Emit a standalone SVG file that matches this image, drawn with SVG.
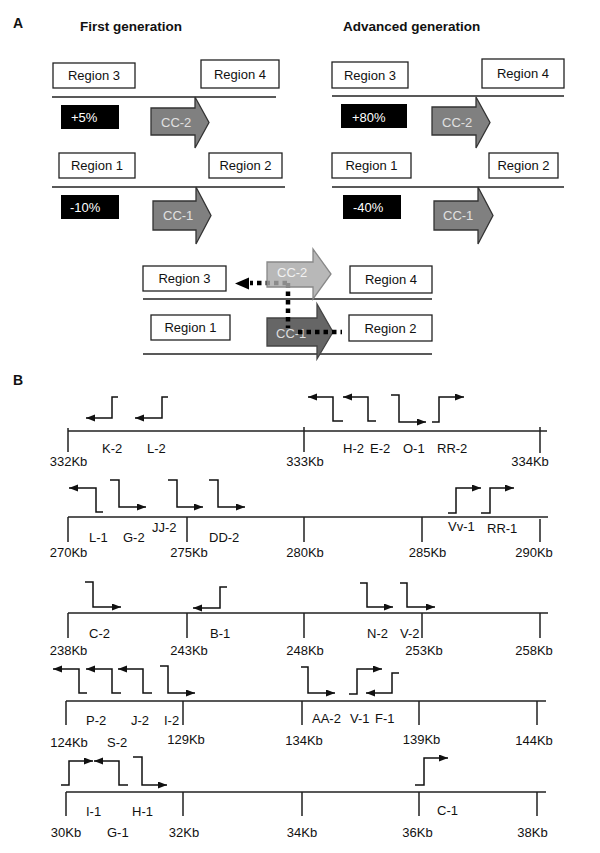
<svg xmlns="http://www.w3.org/2000/svg" width="600" height="853" viewBox="0 0 600 853">
<style>
.t{font-family:"Liberation Sans",Arial,sans-serif;font-size:13px;fill:#111}
.bd{font-weight:bold}
.w{fill:#fff}
.lt{fill:#e0e0e0}
.box{fill:#fff;stroke:#222;stroke-width:1.3}
.blk{fill:#000}
.ln{stroke:#222;stroke-width:1.5;fill:none}
.pr{fill:none;stroke:#111;stroke-width:1.5;marker-end:url(#ah)}
.cc{fill:#808080;stroke:#333;stroke-width:1.3}
.dot{fill:none;stroke:#000;stroke-width:4.5;stroke-dasharray:4.5 4}
</style>
<defs>
<marker id="ah" markerUnits="userSpaceOnUse" markerWidth="10" markerHeight="8" refX="9" refY="3.5" orient="auto">
<path d="M0,0 L9,3.5 L0,7 z" fill="#111"/>
</marker>
</defs>
<rect width="600" height="853" fill="#fff"/>

<g id="panelA-labels">
<text class="t bd" x="13" y="28" style="font-size:14px">A</text>
<text class="t bd" x="80" y="31" style="font-size:13.5px">First generation</text>
<text class="t bd" x="343" y="31" style="font-size:13.5px">Advanced generation</text>
</g>

<!-- First generation -->
<g id="fg-region3"><rect class="box" x="53" y="63" width="82" height="25"/><text class="t" x="94" y="80" text-anchor="middle">Region 3</text></g>
<g id="fg-region4"><rect class="box" x="201" y="60" width="78" height="28"/><text class="t" x="240" y="79" text-anchor="middle">Region 4</text></g>
<line class="ln" x1="52" y1="97" x2="276" y2="97"/>
<g id="fg-pct1"><rect class="blk" x="61" y="105" width="58" height="24"/><text class="t w" x="71" y="122">+5%</text></g>
<g id="fg-cc2"><polygon class="cc" points="151,108 195,108 195,97 209,122.5 195,148 195,135 151,135"/><text class="t lt" x="161" y="127">CC-2</text></g>
<g id="fg-region1"><rect class="box" x="59" y="153" width="76" height="25"/><text class="t" x="97" y="170" text-anchor="middle">Region 1</text></g>
<g id="fg-region2"><rect class="box" x="209" y="153" width="73" height="25"/><text class="t" x="245.5" y="170" text-anchor="middle">Region 2</text></g>
<line class="ln" x1="52" y1="187" x2="285" y2="187"/>
<g id="fg-pct2"><rect class="blk" x="61" y="195" width="58" height="24"/><text class="t w" x="70" y="212">-10%</text></g>
<g id="fg-cc1"><polygon class="cc" points="153,201 196,201 196,187 211,215.5 196,244 196,230 153,230"/><text class="t lt" x="163" y="220">CC-1</text></g>

<!-- Advanced generation -->
<g id="ag-region3"><rect class="box" x="332" y="62" width="76" height="26"/><text class="t" x="370" y="80" text-anchor="middle">Region 3</text></g>
<g id="ag-region4"><rect class="box" x="482" y="59" width="82" height="29"/><text class="t" x="523" y="78" text-anchor="middle">Region 4</text></g>
<line class="ln" x1="332" y1="96" x2="564" y2="96"/>
<g id="ag-pct1"><rect class="blk" x="341" y="104" width="66" height="24"/><text class="t w" x="352" y="122">+80%</text></g>
<g id="ag-cc2"><polygon class="cc" points="432,107 476,107 476,97 490,122.5 476,148 476,135 432,135"/><text class="t lt" x="442" y="127">CC-2</text></g>
<g id="ag-region1"><rect class="box" x="332" y="153" width="79" height="25"/><text class="t" x="371.5" y="170" text-anchor="middle">Region 1</text></g>
<g id="ag-region2"><rect class="box" x="489" y="153" width="69" height="25"/><text class="t" x="523.5" y="170" text-anchor="middle">Region 2</text></g>
<line class="ln" x1="332" y1="187" x2="564" y2="187"/>
<g id="ag-pct2"><rect class="blk" x="343" y="195" width="58" height="24"/><text class="t w" x="353" y="212">-40%</text></g>
<g id="ag-cc1"><polygon class="cc" points="434,201 478,201 478,187 493,215.5 478,244 478,230 434,230"/><text class="t lt" x="443" y="220">CC-1</text></g>

<!-- Combined panel -->
<g id="c-region3"><rect class="box" x="143" y="266" width="83" height="25"/><text class="t" x="184.5" y="283" text-anchor="middle">Region 3</text></g>
<g id="c-region4"><rect class="box" x="350" y="266" width="82" height="27"/><text class="t" x="391" y="284" text-anchor="middle">Region 4</text></g>
<line class="ln" x1="143" y1="299" x2="432" y2="299"/>
<g id="c-region1"><rect class="box" x="151" y="315" width="79" height="25"/><text class="t" x="190.5" y="332" text-anchor="middle">Region 1</text></g>
<g id="c-region2"><rect class="box" x="349" y="315" width="83" height="26"/><text class="t" x="390.5" y="333" text-anchor="middle">Region 2</text></g>
<line class="ln" x1="143" y1="354" x2="432" y2="354"/>
<g id="c-cc1"><polygon points="267,318 317,318 317,304 333,332 317,359 317,346 267,346" fill="#666" stroke="#444" stroke-width="1.3"/><text class="t" x="276" y="338" fill="#ddd" style="fill:#ddd">CC-1</text></g>
<g id="connectors">
<path class="dot" d="M287,283 H250"/>
<polygon points="235,283.5 249,277.5 249,289.5" fill="#000"/>
<path class="dot" d="M288,283 V328"/>
<path class="dot" d="M298,332 H342"/>
</g>
<g id="c-cc2"><polygon points="267,262 313,262 313,249 331,274 313,299 313,287 267,287" fill="#a8a8a8" fill-opacity="0.82" stroke="#888" stroke-width="1.3"/><text class="t" x="277" y="277" style="fill:#f2f2f2">CC-2</text></g>

<!-- Panel B -->
<text class="t bd" x="13" y="385" style="font-size:14px">B</text>

<g id="row1">
<path class="ln" d="M68,431 H547 M68,428 V452 M304,427 V452 M540,427 V453"/>
<text class="t" x="68.5" y="466" text-anchor="middle">332Kb</text>
<text class="t" x="305" y="466" text-anchor="middle">333Kb</text>
<text class="t" x="530" y="466" text-anchor="middle">334Kb</text>
<path class="pr" d="M118,397 H112 V418 H86"/>
<path class="pr" d="M168,397 H162 V418 H135"/>
<path class="pr" d="M343,421 H333 V397 H308"/>
<path class="pr" d="M376,421 H368 V397 H343"/>
<path class="pr" d="M391,395 H399 V422 H426"/>
<path class="pr" d="M432,422 H439 V397 H464"/>
<text class="t" x="102" y="453">K-2</text>
<text class="t" x="147" y="453">L-2</text>
<text class="t" x="343" y="453">H-2</text>
<text class="t" x="370" y="453">E-2</text>
<text class="t" x="403" y="453">O-1</text>
<text class="t" x="437" y="453">RR-2</text>
</g>

<g id="row2">
<path class="ln" d="M68,517 H548 M68,517 V542 M187,517 V542 M304,517 V542 M422,517 V542 M540,519 V542"/>
<text class="t" x="68.5" y="557" text-anchor="middle">270Kb</text>
<text class="t" x="189" y="557" text-anchor="middle">275Kb</text>
<text class="t" x="305" y="557" text-anchor="middle">280Kb</text>
<text class="t" x="427.5" y="557" text-anchor="middle">285Kb</text>
<text class="t" x="534" y="557" text-anchor="middle">290Kb</text>
<path class="pr" d="M103,512 H96 V488 H69"/>
<path class="pr" d="M110,480 H119 V507 H146"/>
<path class="pr" d="M168,480 H177 V507 H203"/>
<path class="pr" d="M209,480 H218 V507 H245"/>
<path class="pr" d="M448,513 H456 V488 H481"/>
<path class="pr" d="M481,513 H490 V488 H514"/>
<text class="t" x="89" y="542">L-1</text>
<text class="t" x="123" y="542">G-2</text>
<text class="t" x="152" y="532">JJ-2</text>
<text class="t" x="209" y="542">DD-2</text>
<text class="t" x="448" y="531">Vv-1</text>
<text class="t" x="487" y="533">RR-1</text>
</g>

<g id="row3">
<path class="ln" d="M68,613 H548 M68,613 V638 M187,613 V638 M304,613 V638 M422,613 V638 M540,613 V638"/>
<text class="t" x="68.5" y="655" text-anchor="middle">238Kb</text>
<text class="t" x="189" y="655" text-anchor="middle">243Kb</text>
<text class="t" x="305" y="655" text-anchor="middle">248Kb</text>
<text class="t" x="424" y="655" text-anchor="middle">253Kb</text>
<text class="t" x="534" y="655" text-anchor="middle">258Kb</text>
<path class="pr" d="M85,582 H93 V607 H121"/>
<path class="pr" d="M227,587 H220 V608 H193"/>
<path class="pr" d="M360,583 H367 V607 H393"/>
<path class="pr" d="M400,583 H407 V607 H435"/>
<text class="t" x="89" y="638">C-2</text>
<text class="t" x="210" y="638">B-1</text>
<text class="t" x="367" y="638">N-2</text>
<text class="t" x="400" y="638">V-2</text>
</g>

<g id="row4">
<path class="ln" d="M66,701 H546 M66,701 V725 M183,701 V725 M302,701 V725 M419,701 V725 M537,701 V725"/>
<text class="t" x="69" y="747" text-anchor="middle">124Kb</text>
<text class="t" x="186" y="744" text-anchor="middle">129Kb</text>
<text class="t" x="304" y="745" text-anchor="middle">134Kb</text>
<text class="t" x="421.5" y="744" text-anchor="middle">139Kb</text>
<text class="t" x="534" y="745" text-anchor="middle">144Kb</text>
<path class="pr" d="M87,693 H79 V669 H53"/>
<path class="pr" d="M121,693 H112 V669 H86"/>
<path class="pr" d="M152,693 H143 V669 H118"/>
<path class="pr" d="M160,666 H168 V693 H195"/>
<path class="pr" d="M301,667 H308 V693 H335"/>
<path class="pr" d="M349,694 H357 V669 H382"/>
<path class="pr" d="M399,673 H392 V693 H366"/>
<text class="t" x="86" y="725">P-2</text>
<text class="t" x="131" y="725">J-2</text>
<text class="t" x="164" y="725">I-2</text>
<text class="t" x="107" y="747">S-2</text>
<text class="t" x="312" y="723">AA-2</text>
<text class="t" x="350" y="723">V-1</text>
<text class="t" x="375" y="723">F-1</text>
</g>

<g id="row5">
<path class="ln" d="M66,792 H546 M66,792 V816 M183,792 V816 M302,792 V816 M419,792 V816 M537,792 V816"/>
<text class="t" x="66" y="837" text-anchor="middle">30Kb</text>
<text class="t" x="184" y="837" text-anchor="middle">32Kb</text>
<text class="t" x="302" y="837" text-anchor="middle">34Kb</text>
<text class="t" x="417.5" y="837" text-anchor="middle">36Kb</text>
<text class="t" x="532.5" y="837" text-anchor="middle">38Kb</text>
<path class="pr" d="M61,785 H69 V761 H93"/>
<path class="pr" d="M128,785 H119 V761 H94"/>
<path class="pr" d="M133,757 H142 V785 H167"/>
<path class="pr" d="M415,785 H424 V758 H448"/>
<text class="t" x="86" y="816">I-1</text>
<text class="t" x="132" y="816">H-1</text>
<text class="t" x="107" y="837">G-1</text>
<text class="t" x="437" y="815">C-1</text>
</g>
</svg>
